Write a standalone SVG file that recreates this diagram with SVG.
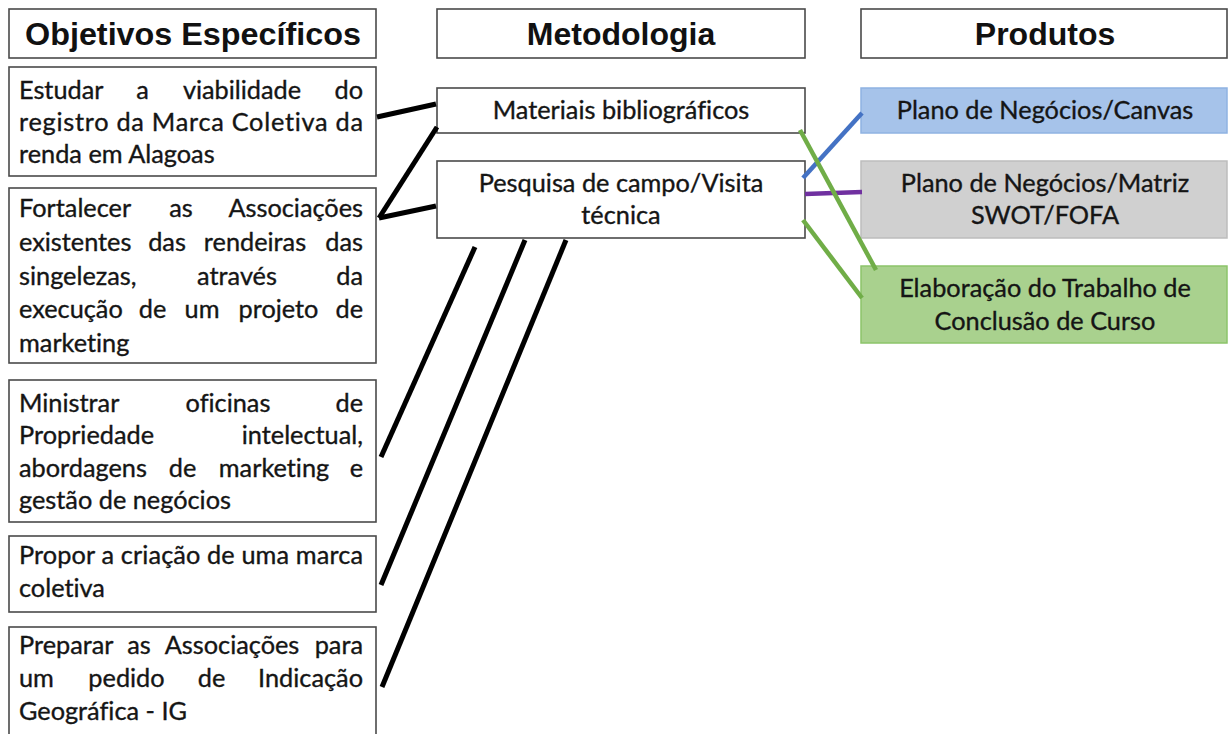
<svg xmlns="http://www.w3.org/2000/svg" width="1228" height="734" viewBox="0 0 1228 734">
<style>
.box{fill:#fff;stroke:#4a4a4a;stroke-width:1.6}
.hdr{font-family:"Liberation Sans",Arial,sans-serif;font-weight:bold;font-size:32px;fill:#111;text-anchor:middle}
.t{font-family:Lato,"Noto Sans",sans-serif;font-size:25.3px;fill:#151515;stroke:#151515;stroke-width:0.35;font-variant-ligatures:none;font-feature-settings:"liga" 0}
.e{text-anchor:end}
.m{text-anchor:middle}
.k{stroke:#000;stroke-width:5;fill:none}
.c{stroke-width:4.5;fill:none}
</style>
<rect width="1228" height="734" fill="#fff"/>
<g id="hdr-objetivos"><rect class="box" x="9" y="9" width="367" height="49"/><text class="hdr" x="193" y="45" textLength="336" lengthAdjust="spacingAndGlyphs">Objetivos Específicos</text></g>
<g id="hdr-metodologia"><rect class="box" x="437" y="9" width="368" height="49"/><text class="hdr" x="621" y="45">Metodologia</text></g>
<g id="hdr-produtos"><rect class="box" x="861" y="9" width="366" height="49"/><text class="hdr" x="1045" y="45">Produtos</text></g>

<g id="obj1"><rect class="box" x="9" y="67" width="367" height="109"/>
<text class="t" y="99"><tspan x="19">Estudar</tspan><tspan x="142.5" class="m">a</tspan><tspan x="242" class="m">viabilidade</tspan><tspan x="363" class="e">do</tspan></text>
<text class="t" x="19" y="131" textLength="344" lengthAdjust="spacing">registro da Marca Coletiva da</text>
<text class="t" x="19" y="163">renda em Alagoas</text></g>

<g id="obj2"><rect class="box" x="9" y="188" width="367" height="175"/>
<text class="t" y="217"><tspan x="19">Fortalecer</tspan><tspan x="181" class="m">as</tspan><tspan x="363" class="e">Associações</tspan></text>
<text class="t" y="251"><tspan x="19">existentes</tspan><tspan x="167" class="m">das</tspan><tspan x="255" class="m">rendeiras</tspan><tspan x="363" class="e">das</tspan></text>
<text class="t" y="285"><tspan x="19">singelezas,</tspan><tspan x="237" class="m">através</tspan><tspan x="363" class="e">da</tspan></text>
<text class="t" y="318"><tspan x="19">execução</tspan><tspan x="152.5" class="m">de</tspan><tspan x="202" class="m">um</tspan><tspan x="278.5" class="m">projeto</tspan><tspan x="363" class="e">de</tspan></text>
<text class="t" x="19" y="352">marketing</text></g>

<g id="obj3"><rect class="box" x="9" y="380" width="367" height="142"/>
<text class="t" y="412"><tspan x="19">Ministrar</tspan><tspan x="228" class="m">oficinas</tspan><tspan x="363" class="e">de</tspan></text>
<text class="t" y="444"><tspan x="19">Propriedade</tspan><tspan x="363" class="e">intelectual,</tspan></text>
<text class="t" y="477"><tspan x="19">abordagens</tspan><tspan x="182.5" class="m">de</tspan><tspan x="274" class="m">marketing</tspan><tspan x="363" class="e">e</tspan></text>
<text class="t" x="19" y="509">gestão de negócios</text></g>

<g id="obj4"><rect class="box" x="9" y="536" width="367" height="76"/>
<text class="t" x="19" y="564" textLength="344" lengthAdjust="spacing">Propor a criação de uma marca</text>
<text class="t" x="19" y="597">coletiva</text></g>

<g id="obj5"><rect class="box" x="9" y="627" width="367" height="120"/>
<text class="t" y="654"><tspan x="19">Preparar</tspan><tspan x="139" class="m">as</tspan><tspan x="232" class="m">Associações</tspan><tspan x="363" class="e">para</tspan></text>
<text class="t" y="687"><tspan x="19">um</tspan><tspan x="126.5" class="m">pedido</tspan><tspan x="211.5" class="m">de</tspan><tspan x="363" class="e">Indicação</tspan></text>
<text class="t" x="19" y="720">Geográfica - IG</text></g>

<g id="met1"><rect class="box" x="437" y="88" width="368" height="45"/><text class="t m" x="621" y="119">Materiais bibliográficos</text></g>
<g id="met2"><rect class="box" x="437" y="161" width="368" height="77"/><text class="t m" x="621" y="192">Pesquisa de campo/Visita</text><text class="t m" x="621" y="224">técnica</text></g>

<g id="prod1"><rect x="861" y="88" width="366" height="45" fill="#a6c3ea" stroke="#8fb3e2" stroke-width="1.5"/><text class="t m" x="1045" y="119">Plano de Negócios/Canvas</text></g>
<g id="prod2"><rect x="861" y="161" width="366" height="77" fill="#d0d0d0" stroke="#bdbdbd" stroke-width="1.5"/><text class="t m" x="1045" y="192">Plano de Negócios/Matriz</text><text class="t m" x="1045" y="224">SWOT/FOFA</text></g>
<g id="prod3"><rect x="861" y="266" width="366" height="77" fill="#a9d18e" stroke="#8cc46a" stroke-width="1.5"/><text class="t m" x="1045" y="297">Elaboração do Trabalho de</text><text class="t m" x="1045" y="330">Conclusão de Curso</text></g>

<g id="connectors">
<line class="k" x1="377" y1="117" x2="436" y2="104"/>
<line class="k" x1="437" y1="127" x2="379" y2="218"/>
<line class="k" x1="379" y1="218" x2="436" y2="206"/>
<line class="k" x1="475" y1="247" x2="381" y2="457"/>
<line class="k" x1="525" y1="240" x2="381" y2="585"/>
<line class="k" x1="566" y1="240" x2="382" y2="687"/>
<line class="c" stroke="#4472c4" x1="803" y1="178" x2="862" y2="113"/>
<line class="c" stroke="#7030a0" x1="805" y1="194" x2="862" y2="192"/>
<line class="c" stroke="#70ad47" x1="800" y1="130" x2="876" y2="270"/>
<line class="c" stroke="#70ad47" x1="803" y1="220" x2="862" y2="298"/>
</g>
</svg>
